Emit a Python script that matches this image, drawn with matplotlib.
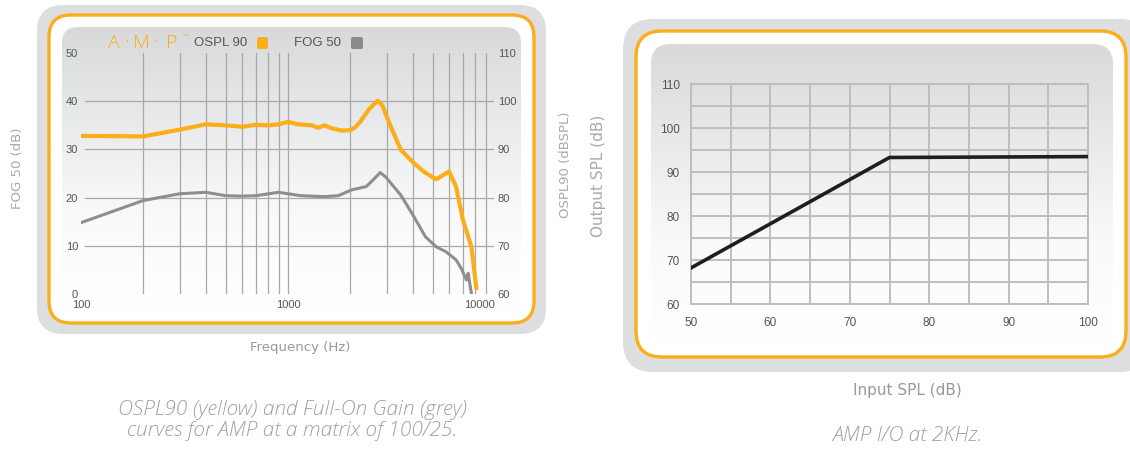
import numpy as np
import matplotlib
matplotlib.use("Agg")
import matplotlib.pyplot as plt
from matplotlib.patches import FancyBboxPatch
from matplotlib.colors import LinearSegmentedColormap

# OSPL90 / FOG50 frequency response (left panel)
ospl_freq = [100, 200, 300, 400, 500, 600, 700, 800, 900, 1000, 1120, 1300, 1400,
             1500, 1620, 1820, 2000, 2100, 2230, 2480, 2710, 2850, 3140, 3510, 4000,
             4520, 5190, 6000, 6480, 7000, 7690, 8130]
ospl_db = [92.8, 92.7, 94.1, 95.2, 95.0, 94.7, 95.1, 95.0, 95.2, 95.7, 95.2, 95.0, 94.5,
           95.0, 94.4, 93.9, 94.0, 94.5, 95.7, 98.5, 100.1, 99.2, 94.7, 89.9, 87.4,
           85.4, 83.8, 85.4, 82.3, 75.4, 69.8, 61.2]

fog_freq = [100, 200, 300, 400, 500, 600, 700, 900, 1150, 1500, 1750, 2030, 2390, 2580,
            2790, 2960, 3140, 3510, 4000, 4610, 5190, 5780, 6480, 6870, 7280, 7420, 7690]
fog_db = [14.8, 19.4, 20.8, 21.1, 20.4, 20.3, 20.4, 21.1, 20.4, 20.2, 20.4, 21.6, 22.3,
          23.7, 25.2, 24.3, 23.0, 20.5, 16.5, 11.9, 9.8, 8.8, 7.1, 5.3, 2.9, 4.3, 0.1]

freq_grid = [200, 300, 400, 500, 600, 700, 800, 900, 1000,
             2000, 3000, 4000, 5000, 6000, 7000, 8000, 9000]
freq_ticks = [100, 1000, 10000]
fog_ticks = [0, 10, 20, 30, 40, 50]
ospl_ticks = [60, 70, 80, 90, 100, 110]

# I/O curve at 2 kHz (right panel)
io_input = [50, 75, 100]
io_output = [68.2, 93.3, 93.5]
io_xticks = [50, 60, 70, 80, 90, 100]
io_yticks = [60, 70, 80, 90, 100, 110]

YELLOW = "#FBAE1A"
GREY_LINE = "#8E8E8E"
FRAME = "#DDDEE0"
LABEL = "#A9A9A9"
TICK = "#555555"

fig = plt.figure(figsize=(11.3, 4.5), dpi=100)
bg = fig.add_axes([0, 0, 1, 1], zorder=0)
bg.axis("off")

grad_cmap = LinearSegmentedColormap.from_list("g", ["#D8D9DB", "#E9EAEB", "#FAFAFA", "#FFFFFF"])
grad = np.linspace(0, 1, 256).reshape(-1, 1)


def rbox(x0, y0, x1, y1, r, **kw):
    p = FancyBboxPatch((x0, y0), x1 - x0, y1 - y0,
                       boxstyle=f"round,pad=0,rounding_size={r}", **kw)
    bg.add_patch(p)
    return p


def panel(outer, orange, inner):
    rbox(*outer, facecolor=FRAME, edgecolor="none", zorder=1)
    rbox(*orange, facecolor="white", edgecolor=YELLOW, linewidth=2.4, zorder=1.2)
    clip = rbox(*inner, facecolor="none", edgecolor="none", zorder=1.3)
    x0, y0, x1, y1 = inner[:4]
    im = bg.imshow(grad, extent=(x0, x1, y1, y0), cmap=grad_cmap, aspect="auto",
                   interpolation="bilinear", zorder=1.5)
    im.set_clip_path(clip)


panel((37, 5, 546, 334, 26), (49, 15, 534, 323, 22), (62, 27, 521, 312, 16))
panel((623, 19, 1150, 372, 30), (636, 31, 1126, 357, 26), (651, 44, 1113, 345, 20))
bg.set_xlim(0, 1130)
bg.set_ylim(450, 0)

# ---- left chart ----
ax1 = fig.add_axes([81 / 1130, 1 - 294 / 450, (495 - 81) / 1130, (294 - 53) / 450], zorder=2)
ax1.set_facecolor("none")
ax1.set_xscale("log")
ax1.set_xlim(100, 10000)
ax1.set_ylim(0, 50)
for f in freq_grid:
    ax1.axvline(f, color="#A8A8A8", lw=0.9, zorder=1)
for v in fog_ticks[1:-1]:
    ax1.axhline(v, xmin=0.01, xmax=0.995, color="#A8A8A8", lw=0.9, zorder=1)
for s in ax1.spines.values():
    s.set_visible(False)
ax1.set_xticks(freq_ticks)
ax1.set_xticklabels([str(f) for f in freq_ticks])
ax1.xaxis.set_minor_locator(matplotlib.ticker.NullLocator())
ax1.set_yticks(fog_ticks)
ax1.tick_params(length=0, labelsize=8, colors=TICK, pad=4)
ax1.tick_params(axis="y", pad=2)
for lab in ax1.get_xticklabels() + ax1.get_yticklabels():
    lab.set_family("Liberation Sans")
ax1.get_xticklabels()[-1].set_horizontalalignment("right")
ax1.plot(fog_freq, fog_db, color=GREY_LINE, lw=2.2, solid_capstyle="round", zorder=3)

ax2 = ax1.twinx()
ax2.set_ylim(60, 110)
ax2.set_yticks(ospl_ticks)
for s in ax2.spines.values():
    s.set_visible(False)
ax2.tick_params(length=0, labelsize=8, colors=TICK, pad=2)
for lab in ax2.get_yticklabels():
    lab.set_family("Liberation Sans")
ax2.plot(ospl_freq, ospl_db, color=YELLOW, lw=3.0, solid_capstyle="round", zorder=4)

# legend row
amp_x = [114, 127, 141, 156, 172]
for ch, x in zip(["A", "·", "M", "·", "P"], amp_x):
    bg.text(x, 43, ch, color=YELLOW, fontsize=14, family="Open Sans", fontweight="light",
            ha="center", va="center", zorder=5)
bg.text(186, 36, "™", color=YELLOW, fontsize=5, ha="center", va="center", zorder=5)
bg.text(194, 43, "OSPL 90", color="#555555", fontsize=9.5, family="Liberation Sans",
        ha="left", va="center", zorder=5)
rbox(257, 37, 268, 49, 2, facecolor=YELLOW, edgecolor="none", zorder=5)
bg.text(294, 43, "FOG 50", color="#555555", fontsize=9.5, family="Liberation Sans",
        ha="left", va="center", zorder=5)
rbox(351, 37, 363, 49, 2, facecolor="#8A8A8A", edgecolor="none", zorder=5)

bg.text(18, 168, "FOG 50 (dB)", rotation=90, color=LABEL, fontsize=9.5,
        ha="center", va="center")
bg.text(566, 165, "OSPL90 (dBSPL)", rotation=90, color=LABEL, fontsize=9.5,
        ha="center", va="center")
bg.text(300, 348, "Frequency (Hz)", color="#999999", fontsize=9.5, ha="center", va="center")

# ---- right chart ----
ax3 = fig.add_axes([691 / 1130, 1 - 304 / 450, (1088 - 691) / 1130, (304 - 84) / 450], zorder=2)
ax3.set_facecolor("none")
ax3.set_xlim(50, 100)
ax3.set_ylim(60, 110)
ax3.set_xticks(io_xticks)
ax3.set_yticks(io_yticks)
ax3.xaxis.set_minor_locator(matplotlib.ticker.MultipleLocator(5))
ax3.yaxis.set_minor_locator(matplotlib.ticker.MultipleLocator(5))
ax3.grid(which="both", color="#BEBEBE", lw=1.4)
ax3.set_axisbelow(True)
for s in ax3.spines.values():
    s.set_color("#BEBEBE")
    s.set_linewidth(1.4)
ax3.tick_params(which="both", length=0, labelsize=8.5, colors=TICK)
ax3.tick_params(axis="x", pad=9)
ax3.tick_params(axis="y", pad=8)
for lab in ax3.get_xticklabels() + ax3.get_yticklabels():
    lab.set_family("Liberation Sans")
ax3.plot(io_input, io_output, color="#1E1E1E", lw=2.6, zorder=3)

bg.text(598, 176, "Output SPL (dB)", rotation=90, color=LABEL, fontsize=11,
        ha="center", va="center")
bg.text(907, 390, "Input SPL (dB)", color="#999999", fontsize=11, ha="center", va="center")

# captions
cap = dict(color="#A0A0A0", fontsize=15, family="Open Sans", fontweight="light",
           style="italic", ha="center", va="center")
bg.text(292, 410, "OSPL90 (yellow) and Full-On Gain (grey)", **cap)
bg.text(292, 431, "curves for AMP at a matrix of 100/25.", **cap)
bg.text(907, 436, "AMP I/O at 2KHz.", **cap)

fig.savefig("out.png", dpi=100)
